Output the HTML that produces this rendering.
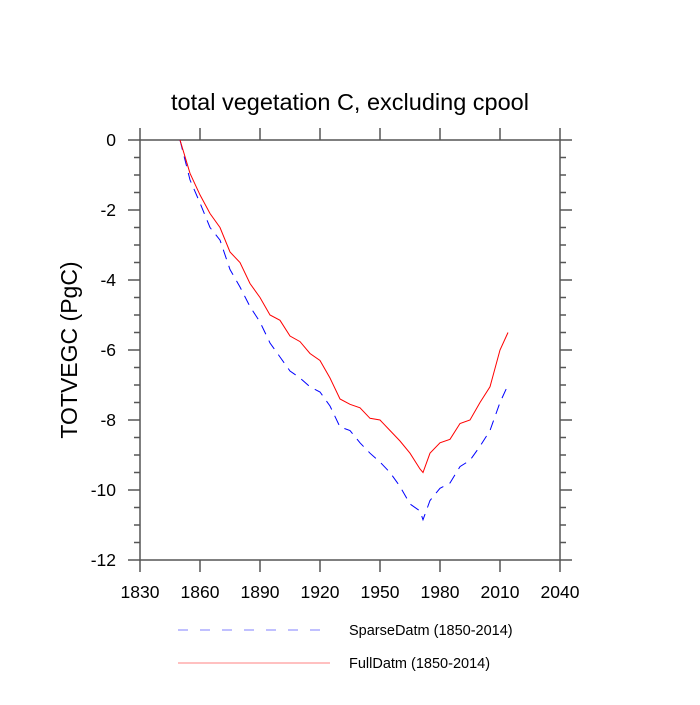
<!DOCTYPE html>
<html><head><meta charset="utf-8"><style>
body{margin:0;background:#fff}
svg text{font-family:"Liberation Sans",sans-serif;fill:#000}
</style></head><body>
<svg id="chart" width="700" height="700" xmlns="http://www.w3.org/2000/svg">
<text x="350" y="110" font-size="23.5" text-anchor="middle">total vegetation C, excluding cpool</text>
<text x="0" y="0" font-size="23" text-anchor="middle" transform="translate(77,350) rotate(-90)">TOTVEGC  (PgC)</text>
<g id="axes"></g>
<g id="series"></g>
<g>
<line x1="178" y1="630" x2="330" y2="630" stroke="#8080ff" stroke-width="1" stroke-dasharray="10,12"/>
<text x="349" y="635" font-size="14.5">SparseDatm (1850-2014)</text>
<line x1="178" y1="663" x2="330" y2="663" stroke="#ff8080" stroke-width="1"/>
<text x="349" y="668" font-size="14.5">FullDatm (1850-2014)</text>
</g>
</svg>
<script>
const years=[1850,1855,1860,1865,1870,1875,1880,1885,1890,1895,1900,1905,1910,1915,1920,1925,1930,1935,1940,1945,1950,1955,1960,1965,1970,1971.5,1975,1980,1985,1990,1995,2000,2005,2010,2014];
const fullVals=[0,-0.95,-1.57,-2.1,-2.5,-3.2,-3.5,-4.1,-4.5,-5.0,-5.15,-5.6,-5.76,-6.1,-6.3,-6.8,-7.4,-7.55,-7.65,-7.95,-8.0,-8.3,-8.6,-8.95,-9.4,-9.5,-8.95,-8.65,-8.55,-8.1,-8.0,-7.5,-7.05,-6.0,-5.5];
const sparseVals=[0,-1.14,-1.8,-2.5,-2.86,-3.7,-4.2,-4.76,-5.2,-5.8,-6.2,-6.6,-6.8,-7.05,-7.2,-7.6,-8.2,-8.3,-8.65,-8.95,-9.2,-9.5,-9.9,-10.4,-10.6,-10.85,-10.3,-9.95,-9.8,-9.33,-9.15,-8.75,-8.3,-7.5,-7.0];
const xTicks=[1830,1860,1890,1920,1950,1980,2010,2040];
const yTicks=[0,-2,-4,-6,-8,-10,-12];
const L=140,R=560,T=140,B=560;
const xs=v=>L+(v-1830)*(R-L)/210;
const ys=v=>T+(0-v)*(B-T)/12;
const NS="http://www.w3.org/2000/svg";
const ax=document.getElementById('axes'),se=document.getElementById('series');
function mk(tag,attrs,parent){const e=document.createElementNS(NS,tag);for(const k in attrs)e.setAttribute(k,attrs[k]);parent.appendChild(e);return e;}
const frame=mk('rect',{x:L,y:T,width:R-L,height:B-T,fill:'none',stroke:'#555','stroke-width':1.5},ax);


xTicks.forEach(t=>{
  const x=xs(t);
  const a=mk('line',{x1:x,y1:B,x2:x,y2:B+12,stroke:'#555','stroke-width':1.5},ax);
  
  
  const b=mk('line',{x1:x,y1:T,x2:x,y2:T-12,stroke:'#555','stroke-width':1.5},ax);
  
  
  const tx=mk('text',{x:x,y:B+38,'font-size':17.5,'text-anchor':'middle'},ax);
  tx.textContent=t;
  
  
});
for(let v=0;v>=-12;v-=0.5){
  const y=ys(v);const major=Math.abs(v%2)<1e-9;const len=major?12:6;
  const a=mk('line',{x1:L,y1:y,x2:L-len,y2:y,stroke:'#555','stroke-width':1.5},ax);
  
  
  const b=mk('line',{x1:R,y1:y,x2:R+len,y2:y,stroke:'#555','stroke-width':1.5},ax);
  
  
}
yTicks.forEach(t=>{
  const tx=mk('text',{x:L-24,y:ys(t)+6,'font-size':17.5,'text-anchor':'end'},ax);
  tx.textContent=t;
  
  
});
function pts(vals){return years.map((y,i)=>xs(y).toFixed(1)+','+ys(vals[i]).toFixed(1)).join(' ');}
const p1=mk('polyline',{points:pts(sparseVals),fill:'none',stroke:'#0000ff','stroke-width':1,'stroke-dasharray':'10,7'},se);


const p2=mk('polyline',{points:pts(fullVals),fill:'none',stroke:'#ff0000','stroke-width':1},se);


</script>
</body></html>
